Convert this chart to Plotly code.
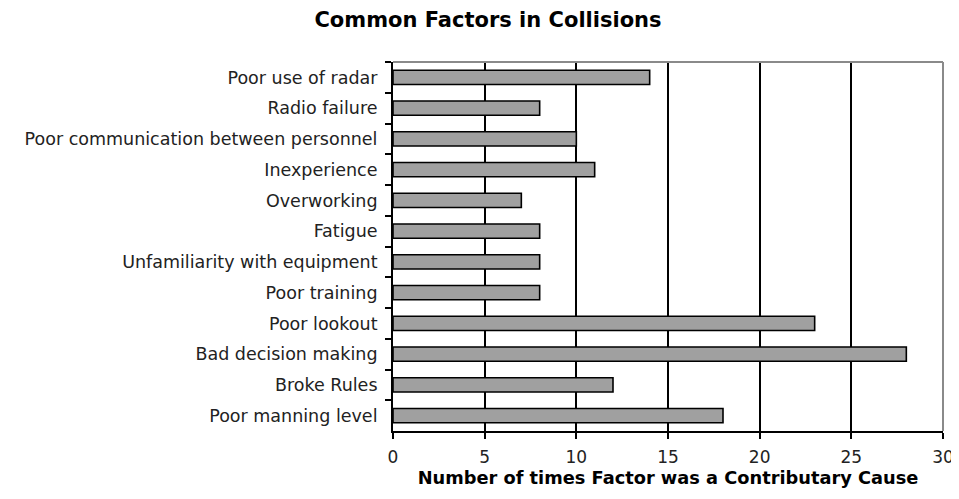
import plotly.graph_objects as go

categories = [
    "Poor use of radar",
    "Radio failure",
    "Poor communication between personnel",
    "Inexperience",
    "Overworking",
    "Fatigue",
    "Unfamiliarity with equipment",
    "Poor training",
    "Poor lookout",
    "Bad decision making",
    "Broke Rules",
    "Poor manning level",
]
values = [14, 8, 10, 11, 7, 8, 8, 8, 23, 28, 12, 18]
x_ticks = [0, 5, 10, 15, 20, 25, 30]

FONT = "DejaVu Sans, Verdana, sans-serif"
# the page body adds an 8px offset; the figure is sized to fit the window
OFF = 8

fig = go.Figure(
    go.Bar(
        x=values,
        y=categories,
        orientation="h",
        marker=dict(color="#a0a0a0", line=dict(color="black", width=1.6)),
        width=0.46,
    )
)

fig.update_layout(
    width=959 - OFF,
    height=499 - OFF,
    paper_bgcolor="white",
    plot_bgcolor="white",
    margin=dict(l=393 - OFF, r=16, t=62 - OFF, b=68),
    showlegend=False,
    font=dict(family=FONT, size=14, color="black"),
    title=dict(
        text="<b>Common Factors in Collisions</b>",
        x=(488 - OFF) / (959 - OFF),
        xanchor="center",
        y=1 - (20 - OFF) / (499 - OFF),
        yanchor="middle",
        font=dict(family=FONT, size=21, color="black"),
    ),
    shapes=[
        dict(type="line", xref="x domain", yref="y domain", x0=0, x1=1, y0=1, y1=1,
             line=dict(color="#8a8a8a", width=2), layer="above"),
        dict(type="line", xref="x domain", yref="y domain", x0=1, x1=1, y0=0, y1=1,
             line=dict(color="#8a8a8a", width=2), layer="above"),
    ],
)

fig.update_xaxes(
    range=[0, 30],
    tickvals=x_ticks,
    ticktext=[str(v) for v in x_ticks],
    automargin=False,
    showgrid=True,
    gridcolor="black",
    gridwidth=2,
    showline=True,
    linecolor="black",
    linewidth=2,
    ticks="outside",
    ticklen=6,
    tickwidth=2,
    tickcolor="black",
    zeroline=False,
    ticklabelstandoff=4,
    tickfont=dict(family=FONT, size=17, color="#222"),
    title=dict(
        text="<b>Number of times Factor was a Contributary Cause</b>",
        font=dict(family=FONT, size=17.8, color="black"),
        standoff=4,
    ),
)

fig.update_yaxes(
    autorange="reversed",
    automargin=False,
    showgrid=False,
    showline=True,
    linecolor="black",
    linewidth=2,
    ticks="outside",
    ticklen=6,
    tickwidth=2,
    tickcolor="black",
    tickson="boundaries",
    ticklabelstandoff=10,
    tickfont=dict(family=FONT, size=17.5, color="#222"),
)

fig.write_html("out.html")
